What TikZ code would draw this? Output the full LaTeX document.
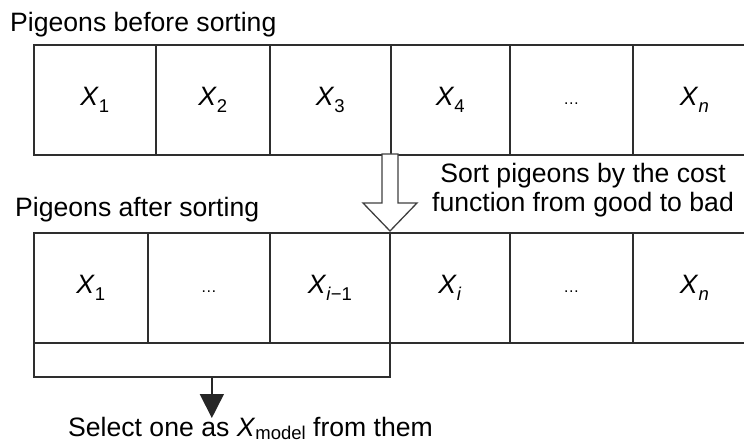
\documentclass[tikz,border=0pt]{standalone}
\usepackage{fontspec}
\setmainfont{Liberation Sans}
\usetikzlibrary{arrows.meta}
% italic X with a lowered, smaller index
\newcommand\subx[1]{\raisebox{-0.27em}{\fontsize{18.5}{18.5}\selectfont #1}}
\newcommand\varX[1]{\textit{X}\subx{#1}}
% small ellipsis sitting a little below the cell centre
\newcommand\gap{\raisebox{-0.35em}{\fontsize{16}{16}\selectfont\dots}}
\begin{document}
\begin{tikzpicture}[x=1pt,y=-1pt,
  txt/.style={font=\fontsize{26.6}{29}\selectfont, inner sep=0},
  cell/.style={draw=black!82, line width=1.7, minimum height=110,
    inner sep=0, anchor=north west, font=\fontsize{26.6}{29}\selectfont},
  hollow/.style={draw=black!75, line width=1.3, fill=white, line join=miter},
  pick/.style={draw=black!85, line width=1.7,
    -{Triangle[width=24pt,length=24pt]}}]
\clip (0,0) rectangle (744,446);
\fill[white] (0,0) rectangle (744,446);

% row before sorting
\node[txt, anchor=base west] (t1) at (10,32) {Pigeons before sorting};
\node[cell, minimum width=122] (a1) at (33,44)  {\varX{1}};
\node[cell, minimum width=114] (a2) at (155,44) {\varX{2}};
\node[cell, minimum width=121] (a3) at (269,44) {\varX{3}};
\node[cell, minimum width=119] (a4) at (390,44) {\varX{4}};
\node[cell, minimum width=123] (a5) at (509,44) {\gap};
\node[cell, minimum width=123] (a6) at (632,44) {\varX{\textit{n}}};

% hollow arrow between the rows
\draw[hollow] (382,154) -- (382,203) -- (363,203) -- (390,231)
  -- (417,203) -- (398,203) -- (398,154) -- cycle;
\node[txt, align=center, anchor=base] (sortlbl) at (583,212)
  {Sort pigeons by the cost\\function from good to bad};

% row after sorting
\node[txt, anchor=base west] (t2) at (15,217) {Pigeons after sorting};
\node[cell, minimum width=114] (b1) at (33,232)  {\varX{1}};
\node[cell, minimum width=122] (b2) at (147,232) {\gap};
\node[cell, minimum width=120] (b3) at (269,232) {\varX{\textit{i}−1}};
\node[cell, minimum width=120] (b4) at (389,232) {\varX{\textit{i}}};
\node[cell, minimum width=123] (b5) at (509,232) {\gap};
\node[cell, minimum width=123] (b6) at (632,232) {\varX{\textit{n}}};

% bracket under the first i-1 pigeons
\node[cell, minimum width=356, minimum height=34] (grp) at (33,342) {};
\coordinate (tip) at (grp.south |- 0,418);
\draw[pick] (grp.south) -- (tip);
\node[txt, anchor=base west] (sel) at (68,436)
  {Select one as \textit{X}\raisebox{-0.15em}{\fontsize{18.5}{18.5}\selectfont model} from them};
\end{tikzpicture}
\end{document}
